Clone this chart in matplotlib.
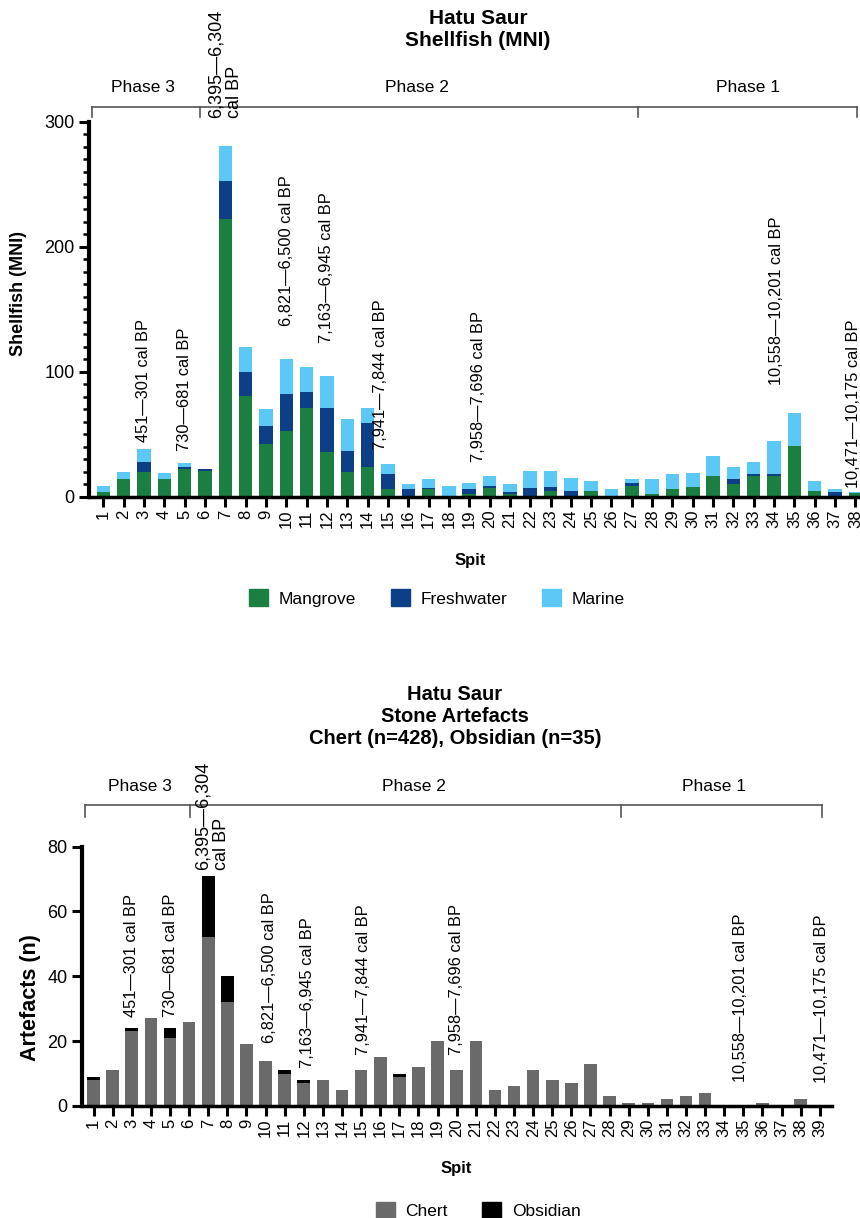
import numpy as np
import matplotlib
matplotlib.use("Agg")
import matplotlib.pyplot as plt
from matplotlib.ticker import MultipleLocator
from matplotlib.patches import Patch

plt.rcParams['font.family'] = ['Liberation Sans', 'DejaVu Sans']

# datos conchas (MNI) por spit
spits_top = list(range(1, 39))
mangrove = [4, 14, 20, 14, 22, 21, 222, 81, 42, 53, 71, 36, 20, 24, 6, 1, 6, 1, 2, 7,
            2, 0, 5, 1, 5, 0, 9, 2, 6, 8, 17, 10, 17, 17, 41, 5, 1, 3]
freshwater = [0, 0, 8, 0, 2, 1, 31, 19, 15, 29, 13, 35, 17, 35, 12, 5, 1, 0, 4, 2,
              2, 7, 3, 4, 0, 0, 2, 0, 0, 0, 0, 4, 1, 1, 0, 0, 3, 0]
marine = [5, 6, 10, 5, 3, 0, 28, 20, 13, 28, 20, 26, 25, 12, 8, 4, 7, 8, 5, 8,
          6, 14, 13, 10, 8, 6, 3, 12, 12, 11, 16, 10, 10, 27, 26, 8, 2, 1]

# datos artefactos líticos por spit
spits_bot = list(range(1, 40))
chert = [8, 11, 23, 27, 21, 26, 52, 32, 19, 14, 10, 7, 8, 5, 11, 15, 9, 12, 20, 11,
         20, 5, 6, 11, 8, 7, 13, 3, 1, 1, 2, 3, 4, 0, 0, 1, 0, 2, 0]
obsidian = [1, 0, 1, 0, 3, 0, 19, 8, 0, 0, 1, 1, 0, 0, 0, 0, 1, 0, 0, 0,
            0, 0, 0, 0, 0, 0, 0, 0, 0, 0, 0, 0, 0, 0, 0, 0, 0, 0, 0]

# fechas (texto, spit, altura) para cada gráfico
dates_top = [("451—301 cal BP", 3, 44), ("730—681 cal BP", 5, 37),
             ("6,395—6,304\ncal BP", 7, 303), ("6,821—6,500 cal BP", 10, 137),
             ("7,163—6,945 cal BP", 12, 123), ("7,941—7,844 cal BP", 14.65, 37.5),
             ("7,958—7,696 cal BP", 19.45, 28), ("10,558—10,201 cal BP", 34.1, 89.5),
             ("10,471—10,175 cal BP", 37.9, 7)]
dates_bot = [("451—301 cal BP", 3, 27.5), ("730—681 cal BP", 5, 27.5),
             ("6,395—6,304\ncal BP", 7.2, 72.8), ("6,821—6,500 cal BP", 10.2, 19.4),
             ("7,163—6,945 cal BP", 12.2, 11.7), ("7,941—7,844 cal BP", 15.1, 15.7),
             ("7,958—7,696 cal BP", 20, 15.7), ("10,558—10,201 cal BP", 34.85, 7.4),
             ("10,471—10,175 cal BP", 39.1, 7.1)]

# fases (inicio, corte, corte, fin) y posiciones de etiquetas
phases_top = [0.44, 5.76, 27.3, 38.1]
phase_lbl_top = [("Phase 3", 2.96), ("Phase 2", 16.43), ("Phase 1", 32.7)]
phases_bot = [0.57, 6.06, 28.6, 39.1]
phase_lbl_bot = [("Phase 3", 3.44), ("Phase 2", 17.77), ("Phase 1", 33.46)]

c_mang = '#1b7f41'
c_fresh = '#0d3f86'
c_mar = '#5cc8f6'
c_chert = '#6a6a6a'
c_obs = '#000000'

fig = plt.figure(figsize=(8.6, 12.18), dpi=100)


def style_axis(ax):
    for s in ['top', 'right']:
        ax.spines[s].set_visible(False)
    ax.spines['left'].set_linewidth(3)
    ax.spines['bottom'].set_linewidth(2.5)
    ax.tick_params(axis='y', which='major', length=7, width=2.2, labelsize=13, direction='out')
    ax.tick_params(axis='y', which='minor', length=4, width=1.8, direction='out')
    ax.tick_params(axis='x', length=7, width=2.2, labelsize=12, labelrotation=90, pad=2)


def phase_bracket(ax, xs, labels, y_line, y_tick, y_lbl):
    tr = ax.get_xaxis_transform()
    ax.plot([xs[0], xs[-1]], [y_line, y_line], color='#555555', lw=1.2,
            transform=tr, clip_on=False)
    for x in xs:
        ax.plot([x, x], [y_line, y_tick], color='#555555', lw=1.2,
                transform=tr, clip_on=False)
    for txt, x in labels:
        ax.text(x, y_lbl, txt, transform=tr, ha='center', va='center', fontsize=12.5)


def put_dates(ax, dates):
    for txt, x, y in dates:
        fs = 13 if '\n' in txt else 11.8
        ax.text(x, y, txt, rotation=90, ha='center', va='bottom', fontsize=fs,
                multialignment='left', clip_on=False, linespacing=1.1)


# ---- gráfico superior: conchas
ax1 = fig.add_axes([0.1035, 0.592, 0.929, 0.308])
m = np.array(mangrove)
f = np.array(freshwater)
w = 0.66
ax1.bar(spits_top, mangrove, width=w, color=c_mang, label='Mangrove')
ax1.bar(spits_top, freshwater, width=w, bottom=m, color=c_fresh, label='Freshwater')
ax1.bar(spits_top, marine, width=w, bottom=m + f, color=c_mar, label='Marine')
ax1.set_xlim(0.297, 39.6)
ax1.set_ylim(0, 300)
ax1.set_xticks(spits_top)
ax1.set_yticks([0, 100, 200, 300])
ax1.yaxis.set_minor_locator(MultipleLocator(10))
style_axis(ax1)
put_dates(ax1, dates_top)
phase_bracket(ax1, phases_top, phase_lbl_top, 1.040, 1.013, 1.0925)

fig.text(0.556, 0.9758, "Hatu Saur\nShellfish (MNI)", ha='center', va='center',
         fontsize=15, fontweight='bold', linespacing=1.15)
fig.text(0.021, 0.759, "Shellfish (MNI)", rotation=90, ha='center', va='center',
         fontsize=13, fontweight='bold')
fig.text(0.547, 0.540, "Spit", ha='center', va='center', fontsize=12, fontweight='bold')
fig.legend(handles=[Patch(color=c_mang, label='Mangrove'),
                    Patch(color=c_fresh, label='Freshwater'),
                    Patch(color=c_mar, label='Marine')],
           loc='center', bbox_to_anchor=(0.508, 0.509), ncol=3, frameon=False,
           fontsize=12.5, handlelength=1.1, handleheight=1.1, columnspacing=2.0,
           handletextpad=0.6)

# ---- gráfico inferior: artefactos
ax2 = fig.add_axes([0.0953, 0.092, 0.872, 0.2129])
ax2.bar(spits_bot, chert, width=w, color=c_chert, label='Chert')
ax2.bar(spits_bot, obsidian, width=w, bottom=chert, color=c_obs, label='Obsidian')
ax2.set_xlim(0.393, 39.63)
ax2.set_ylim(0, 80)
ax2.set_xticks(spits_bot)
ax2.set_yticks([0, 20, 40, 60, 80])
style_axis(ax2)
put_dates(ax2, dates_bot)
phase_bracket(ax2, phases_bot, phase_lbl_bot, 1.161, 1.115, 1.230)

fig.text(0.529, 0.412, "Hatu Saur\nStone Artefacts\nChert (n=428), Obsidian (n=35)",
         ha='center', va='center', fontsize=14.5, fontweight='bold', linespacing=1.2)
fig.text(0.035, 0.181, "Artefacts (n)", rotation=90, ha='center', va='center',
         fontsize=15.5, fontweight='bold')
fig.text(0.531, 0.041, "Spit", ha='center', va='center', fontsize=12, fontweight='bold')
fig.legend(handles=[Patch(color=c_chert, label='Chert'),
                    Patch(color=c_obs, label='Obsidian')],
           loc='center', bbox_to_anchor=(0.556, 0.006), ncol=2, frameon=False,
           fontsize=12.5, handlelength=1.1, handleheight=1.1, columnspacing=2.0,
           handletextpad=0.6)

fig.savefig('out.png', dpi=100)
